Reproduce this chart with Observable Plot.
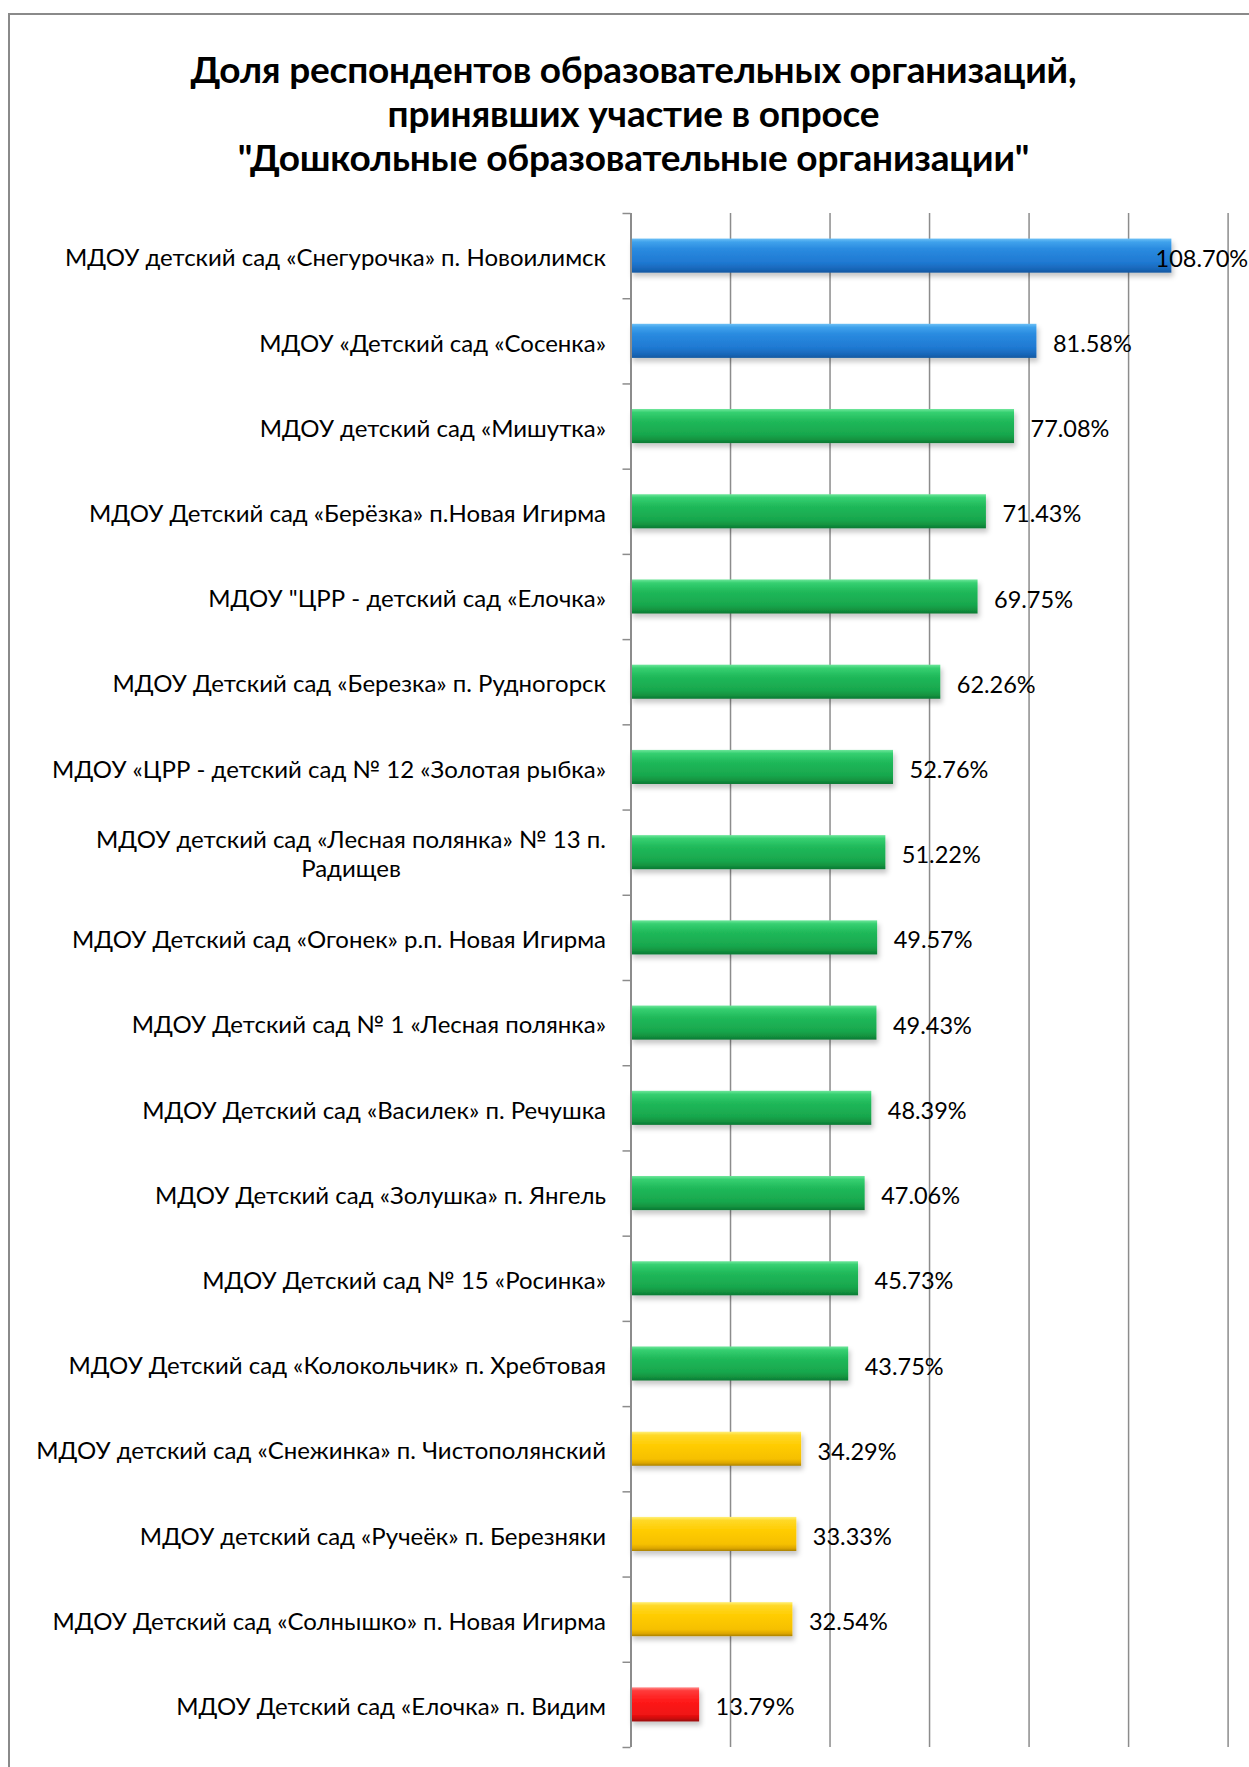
<!DOCTYPE html>
<html><head><meta charset="utf-8">
<script src="https://cdn.jsdelivr.net/npm/d3@7"></script>
<script src="https://cdn.jsdelivr.net/npm/@observablehq/plot@0.6"></script>
<style>
body{margin:0;background:#fff;}
#page{position:relative;width:1249px;height:1767px;overflow:hidden;background:#fff;font-family:Lato,"Open Sans",sans-serif;}
#frame{position:absolute;left:8px;top:13px;width:2000px;height:2000px;border-top:2px solid #8a8a8a;border-left:2px solid #8a8a8a;}
#title{position:absolute;left:0;top:0;width:1249px;height:190px;text-align:center;font-weight:700;font-size:37px;color:#000;line-height:44px;padding-top:47px;box-sizing:border-box;padding-left:18px;letter-spacing:-0.2px;}
#chart{position:absolute;left:0;top:190px;}
</style></head>
<body><div id="page"><div id="frame"></div>
<div id="title">Доля респондентов образовательных организаций,<br>принявших участие в опросе<br>"Дошкольные образовательные организации"</div>
<div id="chart"></div></div>
<script>
const categories = [
  "МДОУ детский сад «Снегурочка» п. Новоилимск",
  "МДОУ «Детский сад «Сосенка»",
  "МДОУ детский сад «Мишутка»",
  "МДОУ Детский сад «Берёзка» п.Новая Игирма",
  "МДОУ \"ЦРР - детский сад «Елочка»",
  "МДОУ Детский сад «Березка» п. Рудногорск",
  "МДОУ «ЦРР - детский сад № 12 «Золотая рыбка»",
  "МДОУ детский сад «Лесная полянка» № 13 п.\nРадищев",
  "МДОУ Детский сад «Огонек» р.п. Новая Игирма",
  "МДОУ Детский сад № 1 «Лесная полянка»",
  "МДОУ Детский сад «Василек» п. Речушка",
  "МДОУ Детский сад «Золушка» п. Янгель",
  "МДОУ Детский сад № 15 «Росинка»",
  "МДОУ Детский сад «Колокольчик» п. Хребтовая",
  "МДОУ детский сад «Снежинка» п. Чистополянский",
  "МДОУ детский сад «Ручеёк» п. Березняки",
  "МДОУ Детский сад «Солнышко» п. Новая Игирма",
  "МДОУ Детский сад «Елочка» п. Видим"
];
const values = [108.70, 81.58, 77.08, 71.43, 69.75, 62.26, 52.76, 51.22, 49.57, 49.43, 48.39, 47.06, 45.73, 43.75, 34.29, 33.33, 32.54, 13.79];
const groups = ["blue","blue","green","green","green","green","green","green","green","green","green","green","green","green","yellow","yellow","yellow","red"];
const gridTicks = [20, 40, 60, 80, 100, 120];
const xDomain = [0, 120];

const gradients = {
  blue:   [[0,"#6cc0f6"],[0.1,"#3fa2ec"],[0.3,"#2a8be0"],[0.7,"#1f79d2"],[0.9,"#1866b8"],[1,"#12579f"]],
  green:  [[0,"#6fe69b"],[0.1,"#36d071"],[0.35,"#20b95a"],[0.75,"#18a74d"],[0.9,"#12923f"],[1,"#0d7833"]],
  yellow: [[0,"#fff07a"],[0.1,"#ffd928"],[0.4,"#ffcc00"],[0.8,"#f6c000"],[0.92,"#dca600"],[1,"#a98000"]],
  red:    [[0,"#ff8a8a"],[0.1,"#ff3a3a"],[0.4,"#ff1a1a"],[0.8,"#f01212"],[0.92,"#c80c0c"],[1,"#960606"]]
};

const rows = categories.map((name, i) => ({name, value: values[i], group: groups[i], i}));
const boundaries = d3.range(categories.length + 1);

function defsMark() {
  const ns = "http://www.w3.org/2000/svg";
  const defs = document.createElementNS(ns, "defs");
  for (const [key, stops] of Object.entries(gradients)) {
    const lg = document.createElementNS(ns, "linearGradient");
    lg.setAttribute("id", "grad-" + key);
    lg.setAttribute("x1", "0"); lg.setAttribute("y1", "0");
    lg.setAttribute("x2", "0"); lg.setAttribute("y2", "1");
    for (const [o, c] of stops) {
      const s = document.createElementNS(ns, "stop");
      s.setAttribute("offset", o); s.setAttribute("stop-color", c);
      lg.appendChild(s);
    }
    defs.appendChild(lg);
  }
  const f = document.createElementNS(ns, "filter");
  f.setAttribute("id", "shadow");
  f.setAttribute("x", "-5%"); f.setAttribute("y", "-30%");
  f.setAttribute("width", "115%"); f.setAttribute("height", "180%");
  const ds = document.createElementNS(ns, "feDropShadow");
  ds.setAttribute("dx", "2"); ds.setAttribute("dy", "4");
  ds.setAttribute("stdDeviation", "2.5");
  ds.setAttribute("flood-color", "#000"); ds.setAttribute("flood-opacity", "0.22");
  f.appendChild(ds);
  defs.appendChild(f);
  return defs;
}

const barMarks = Object.keys(gradients).map(g =>
  Plot.rect(rows.filter(d => d.group === g), {
    x1: 0, x2: "value",
    y1: d => d.i + 0.3, y2: d => d.i + 0.7,
    fill: `url(#grad-${g})`
  })
);

const chart = Plot.plot({
  width: 1249,
  height: 1577,
  marginLeft: 630.5,
  marginRight: 21.4,
  marginTop: 23,
  marginBottom: 20,
  x: {domain: xDomain, axis: null},
  y: {domain: [0, categories.length], reverse: true, label: null},
  style: {fontFamily: "Lato, 'Open Sans', sans-serif", fontSize: "24px", background: "transparent", color: "#000", overflow: "visible"},
  marks: [
    defsMark,
    Plot.ruleX(gridTicks, {stroke: "#8c8c8c", strokeWidth: 1.5, strokeOpacity: 1}),
    ...barMarks,
    Plot.ruleX([0], {stroke: "#8c8c8c", strokeWidth: 2, strokeOpacity: 1}),
    Plot.axisY(boundaries, {tickSize: 8, tickFormat: () => "", stroke: "#8c8c8c", strokeWidth: 1.5, strokeOpacity: 1, label: null}),
    Plot.text(rows, {y: d => d.i + 0.5, text: "name", frameAnchor: "left", textAnchor: "end", dx: -25, dy: 1, lineHeight: 1.2, fontSize: 24, fill: "#000"}),
    Plot.text(rows.filter(d => d.value <= 100), {x: "value", y: d => d.i + 0.5, text: d => d.value.toFixed(2) + "%", textAnchor: "start", dx: 16, dy: 3, fontSize: 23.5, fill: "#000"}),
    Plot.text(rows.filter(d => d.value > 100), {y: d => d.i + 0.5, text: d => d.value.toFixed(2) + "%", frameAnchor: "right", textAnchor: "end", dx: 20, dy: 3, fontSize: 23.5, fill: "#000"})
  ]
});

document.getElementById("chart").appendChild(chart);

chart.querySelectorAll("g").forEach(g => {
  const f = g.getAttribute("fill");
  if (f && f.startsWith("url(#grad")) g.setAttribute("filter", "url(#shadow)");
});
chart.querySelectorAll("text").forEach(t => {
  const ts = t.querySelectorAll("tspan");
  if (ts.length === 2) {
    const L1 = ts[0].getComputedTextLength();
    const L2 = ts[1].getComputedTextLength();
    ts[1].setAttribute("x", -(L1 - L2) / 2);
  }
});
</script>
</body></html>
